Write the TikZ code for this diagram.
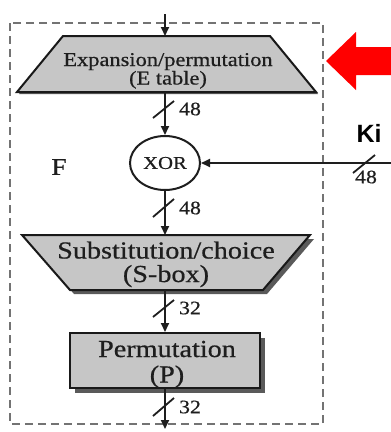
\documentclass[tikz,border=0pt]{standalone}
\usepackage{fontspec}
\setmainfont{Liberation Serif}
\newfontfamily\widefont[FakeStretch=1.15,FakeBold=0.6]{Liberation Serif}
\newfontfamily\kifont{Liberation Sans}
\usetikzlibrary{shapes.geometric,arrows.meta,shadows}
\definecolor{boxgray}{RGB}{198,198,198}
\definecolor{txt}{RGB}{30,30,30}
\definecolor{framegray}{RGB}{115,115,115}
\definecolor{shadowc}{RGB}{90,90,90}
\begin{document}
\begin{tikzpicture}[x=1pt,y=-1pt,
  flow/.style={draw=txt, line width=2pt, -{Triangle[length=9pt,width=8pt]}},
  tick/.style={draw=txt, line width=1.8pt},
  lab/.style={font=\widefont\fontsize{19}{19}\selectfont, text=txt, inner sep=0pt},
  small/.style={font=\widefont\fontsize{19.5}{20}\selectfont, text=txt, inner sep=0pt, anchor=base},
  big/.style={font=\widefont\fontsize{24.5}{25}\selectfont, text=txt, inner sep=0pt, anchor=base},
  outline/.style={fill=boxgray, draw=black!90, line width=2pt, line join=miter},
  shadowfill/.style={fill=shadowc}
]
\useasboundingbox (0,0) rectangle (391,432);
% dashed frame
\draw[framegray, line width=2.2pt, dash pattern=on 8pt off 5pt] (10,23) rectangle (323,424);
% red arrow
\fill[red] (326,61) -- (356,32) -- (356,47) -- (391,47) -- (391,75) -- (356,75) -- (356,90) -- cycle;

\coordinate (in) at (165,14);
\coordinate (out) at (165,429);
\coordinate (kin) at (391,163);

% E table trapezium
\fill[shadowfill] (65,38) -- (272,38) -- (318,94) -- (19,94) -- cycle;
\draw[outline] (63,36) -- (270,36) -- (316,92) -- (17,92) -- cycle;
\coordinate (Etop) at (165,36);
\coordinate (Ebot) at (165,92);

% XOR
\node[ellipse, draw=txt, fill=white, line width=2pt, minimum width=70pt, minimum height=54pt, inner sep=0pt,
  font=\widefont\fontsize{18}{18}\selectfont, text=txt] (X) at (165,163) {XOR};

% S-box trapezium
\fill[shadowfill] (26,239) -- (314,239) -- (267,294) -- (74,294) -- cycle;
\draw[outline] (22,235) -- (310,235) -- (263,290) -- (70,290) -- cycle;
\coordinate (Stop) at (165,235);
\coordinate (Sbot) at (165,290);

% P box
\node[fill=boxgray, draw=black!90, line width=2pt, inner sep=0pt, minimum width=190pt, minimum height=55pt,
  drop shadow={shadow xshift=5pt, shadow yshift=-5pt, fill=shadowc, opacity=1}]
  (P) at (165,360.5) {};

\node[small] (E1) at (168,66) {Expansion/permutation};
\node[small] (E2) at (168,84.5) {(E table)};
\node[big] (S1) at (166,258.5) {Substitution/choice};
\node[big] (S2) at (166,282) {(S-box)};
\node[big] (P1) at (167,357) {Permutation};
\node[big] (P2) at (167,382.5) {(P)};

\draw[flow] (in) -- (Etop);
\draw[flow] (Ebot) -- (X.north);
\draw[flow] (X.south) -- (Stop);
\draw[flow] (Sbot) -- (P.north);
\draw[flow] (P.south) -- (out);
\draw[flow] (kin) -- (X.east);

% ticks
\draw[tick] (153,118) -- (174,101);
\draw[tick] (153,217) -- (174,199);
\draw[tick] (153,317) -- (174,300);
\draw[tick] (153,416) -- (174,398);
\draw[tick] (353,173) -- (375,155);

\node[lab] (l1) at (190,109) {48};
\node[lab] (l2) at (190,208) {48};
\node[lab] (l3) at (190,308) {32};
\node[lab] (l4) at (190,407) {32};
\node[lab] (l5) at (366,177) {48};

\node[font=\widefont\fontsize{24}{24}\selectfont, text=txt, inner sep=0pt] (F) at (59,167) {F};
\node[font=\kifont\bfseries\fontsize{25}{25}\selectfont, inner sep=0pt] (ki) at (369,133) {Ki};
\end{tikzpicture}
\end{document}
